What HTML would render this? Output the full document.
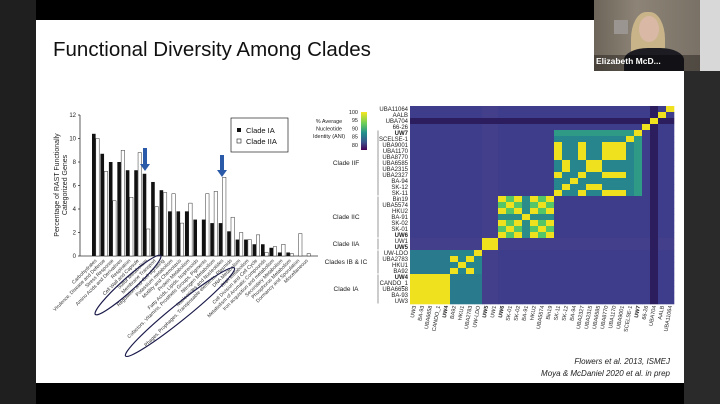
<!DOCTYPE html>
<html><head><meta charset="utf-8"><style>
body{margin:0;width:720px;height:404px;background:#000;position:relative;overflow:hidden;font-family:"Liberation Sans",sans-serif}
#left{position:absolute;left:0;top:0;width:36px;height:404px;background:#1f1f1f}
#right{position:absolute;left:684px;top:71px;width:36px;height:333px;background:#2a2a2a}
#slide{position:absolute;left:36px;top:20px;width:648px;height:363px;background:#fff}
#cam{position:absolute;left:594px;top:0;width:106px;height:71px;background:linear-gradient(90deg,#6e655a,#8d8477 40%,#7a7166);overflow:hidden}
#tr{position:absolute;left:700px;top:0;width:20px;height:71px;background:#d8d8d8}
</style></head><body>
<div id="left"></div><div id="right"></div><div id="tr"></div>
<div id="slide"></div>
<div id="cam">
 <div style="position:absolute;left:20px;top:20px;width:14px;height:14px;background:#9a9590"></div>
 <div style="position:absolute;left:37px;top:12px;width:34px;height:60px;border-radius:45% 45% 20% 20%;background:#c9b48a"></div>
 <div style="position:absolute;left:45px;top:16px;width:20px;height:26px;border-radius:50%;background:#d9b9a6"></div>
 <div style="position:absolute;left:30px;top:48px;width:60px;height:30px;border-radius:40% 40% 0 0;background:#1c1c22"></div>
 <div style="position:absolute;left:0;top:55px;width:106px;height:16px;background:rgba(0,0,0,0.35)"></div>
 <div style="position:absolute;left:2px;top:56px;color:#fff;font-size:8.5px;font-weight:bold">Elizabeth McD...</div>
</div>
<svg id="s" width="720" height="404" style="position:absolute;left:0;top:0">
<text x="53" y="56" font-size="20.5" fill="#111">Functional Diversity Among Clades</text>
<g id="bars"></g>
<g id="hm"></g>
<text x="670" y="364" font-size="8" font-style="italic" fill="#222" text-anchor="end">Flowers et al. 2013, ISMEJ</text>
<text x="670" y="376" font-size="8" font-style="italic" fill="#222" text-anchor="end">Moya &amp; McDaniel 2020 et al. in prep</text>
</svg>
<script>
const NS="http://www.w3.org/2000/svg";
function el(p,t,a,txt){const e=document.createElementNS(NS,t);for(const k in a)e.setAttribute(k,a[k]);if(txt!=null)e.textContent=txt;p.appendChild(e);return e;}
const B=document.getElementById('bars');
const y0=256,py=11.75,x0=80;
el(B,'line',{x1:x0,y1:y0,x2:318,y2:y0,stroke:'#333','stroke-width':0.8});
el(B,'line',{x1:x0,y1:y0,x2:x0,y2:115,stroke:'#333','stroke-width':0.8});
for(let v=0;v<=12;v+=2){const y=y0-v*py;el(B,'line',{x1:x0-2,y1:y,x2:x0,y2:y,stroke:'#333','stroke-width':0.8});el(B,'text',{x:x0-4,y:y+2,'font-size':6,'text-anchor':'end',fill:'#222'},v);}
el(B,'text',{x:0,y:0,'font-size':7,'text-anchor':'middle',fill:'#222',transform:'translate(59,185) rotate(-90)'},'Percentage of RAST Functionally');
el(B,'text',{x:0,y:0,'font-size':7,'text-anchor':'middle',fill:'#222',transform:'translate(67,185) rotate(-90)'},'Categorized Genes');
const d=[[10.4,10],[8.7,7.2],[8,4.7],[8,9],[7.3,5],[7.3,8.8],[7,2.3],[6.3,4.2],[5.6,5.4],[3.8,5.3],[3.8,2.8],[3.8,4.5],[3.1,0],[3.1,5.3],[2.8,5.5],[2.8,6.7],[2.1,3.3],[1.4,2],[1.4,1.4],[1,1.8],[1,0.3],[0.7,0.8],[0.3,1],[0.3,0.2],[0,1.9],[0,0.2]];
const cats=["Carbohydrates","Virulence, Disease and Defense","Stress Response","Amino Acids and Derivatives","Respiration","Cell Wall and Capsule","Sulfur Metabolism","Membrane Transport","Regulation and Cell signaling","Potassium metabolism","Motility and Chemotaxis","Protein Metabolism","Fatty Acids, Lipids, Isoprenoids","Cofactors, Vitamins, Prosthetic Groups, Pigments","Nitrogen Metabolism","Nucleosides and Nucleotides","Phages, Prophages, Transposable elements, Plasmids","DNA Metabolism","RNA Metabolism","Cell Division and Cell Cycle","Metabolism of Aromatic Compounds","Iron acquisition and metabolism","Secondary Metabolism","Phosphorus Metabolism","Dormancy and Sporulation","Miscellaneous"];
d.forEach((p,i)=>{const x=92+i*8.45;
 if(p[0]>0)el(B,'rect',{x:x,y:y0-p[0]*py,width:3.6,height:p[0]*py,fill:'#111'});
 if(p[1]>0)el(B,'rect',{x:x+3.8,y:y0-p[1]*py,width:3.4,height:p[1]*py,fill:'#fff',stroke:'#333','stroke-width':0.5});
 el(B,'text',{x:0,y:0,'font-size':5,'text-anchor':'end',fill:'#333',transform:`translate(${x+5},${y0+5}) rotate(-45)`},cats[i]);
});
el(B,'rect',{x:231,y:118,width:57,height:34,fill:'#fff',stroke:'#222','stroke-width':0.7});
el(B,'rect',{x:237,y:128,width:4,height:4,fill:'#111'});
el(B,'rect',{x:237,y:139,width:4,height:4,fill:'#fff',stroke:'#222','stroke-width':0.6});
el(B,'text',{x:246,y:133,'font-size':7.5,fill:'#111'},'Clade IA');
el(B,'text',{x:246,y:144,'font-size':7.5,fill:'#111'},'Clade IIA');
[[145,148,171],[222,155,177]].forEach(a=>{el(B,'path',{d:`M${a[0]-2},${a[1]} h4 v${a[2]-a[1]-7} h3 l-5,7 l-5,-7 h3 z`,fill:'#2b5aa8'});});
el(B,'ellipse',{cx:128,cy:285,rx:44,ry:6.5,fill:'none',stroke:'#1a1a4a','stroke-width':1.2,transform:'rotate(-42 128 285)'});
el(B,'ellipse',{cx:180,cy:312,rx:70,ry:8,fill:'none',stroke:'#1a1a4a','stroke-width':1.2,transform:'rotate(-39 180 312)'});
const H=document.getElementById('hm');
const names=["UBA11064","AALB","UBA704","66-26","UW7","SCELSE-1","UBA9001","UBA1170","UBA8770","UBA6585","UBA2315","UBA2327","BA-94","SK-12","SK-11","Bin19","UBA5574","HKU2","BA-91","SK-02","SK-01","UW6","UW1","UW5","UW-LDO","UBA2783","HKU1","BA92","UW4","CANDO_1","UBA6658","BA-93","UW3"];
const bold={"UW7":1,"UW6":1,"UW5":1,"UW4":1};
const clade=i=>i>=28?'IA':i>=24?'IB':i>=22?'IIA':i>=15?'IIC':i>=4?'IIF':'O';
const sub={6:'a',7:'a',8:'a',11:'a',14:'a',9:'b',10:'b',13:'b',15:'x',17:'x',19:'x',21:'x',16:'y',20:'y',25:'p',27:'p'};
const Y='#f0e11f',T='#27858d',G='#55c667',P='#3d3d8b',D='#2c1d5e';
function col(i,j){if(i==j)return Y;const a=clade(i),b=clade(j);
 if(i==2||j==2)return D;
 if(a!=b){if((a=='IA'&&b=='IB')||(a=='IB'&&b=='IA'))return '#2a7a8e';if(a=='IIA'||b=='IIA')return '#433f8a';return P;}
 if(a=='IA'||a=='IIA')return Y;
 if(a=='O')return P;
 if(sub[i]&&sub[i]==sub[j])return Y;
 if(a=='IIC'){if(sub[i]&&sub[j])return G;return '#2b8c8a';}
 if(a=='IIF'&&(i==4||j==4))return '#2f9a86';
 return T;}
const hx=410,hy=106,cw=264/33,ch=198/33;
for(let i=0;i<33;i++)for(let c=0;c<33;c++){const j=32-c;el(H,'rect',{x:hx+c*cw,y:hy+i*ch,width:cw+0.3,height:ch+0.3,fill:col(i,j)});}
names.forEach((n,i)=>{el(H,'text',{x:408,y:hy+i*ch+ch-0.8,'font-size':6,'text-anchor':'end',fill:'#222','font-weight':bold[n]?'bold':'normal'},n);
 const c=32-i;el(H,'text',{x:0,y:0,'font-size':5.5,'text-anchor':'end',fill:'#222','font-weight':bold[n]?'bold':'normal',transform:`translate(${hx+c*cw+cw/2+2},${hy+200}) rotate(-80)`},n);});
[["Clade IIF",4,14],["Clade IIC",15,21],["Clade IIA",22,23],["Clades IB & IC",24,27],["Clade IA",28,32]].forEach(g=>{
 el(H,'line',{x1:378,y1:hy+g[1]*ch+0.5,x2:378,y2:hy+(g[2]+1)*ch-0.5,stroke:'#999','stroke-width':1});
 el(H,'text',{x:346,y:hy+(g[1]+g[2]+1)/2*ch+2,'font-size':6.5,'text-anchor':'middle',fill:'#222'},g[0]);});
const gr=el(H,'linearGradient',{id:'cb',x1:0,y1:0,x2:0,y2:1});
[['0','#f5e61f'],['0.3','#6cce59'],['0.55','#21918c'],['0.8','#3b528b'],['1','#440154']].forEach(s=>el(gr,'stop',{offset:s[0],'stop-color':s[1]}));
el(H,'rect',{x:361,y:112,width:6,height:38,fill:'url(#cb)'});
[100,95,90,85,80].forEach((v,k)=>el(H,'text',{x:358,y:114+k*8.2,'font-size':5.5,'text-anchor':'end',fill:'#222'},v));
['% Average','Nucleotide','Identity (ANI)'].forEach((t,k)=>el(H,'text',{x:329,y:123+k*7.5,'font-size':5.5,'text-anchor':'middle',fill:'#222'},t));
</script>
</body></html>
